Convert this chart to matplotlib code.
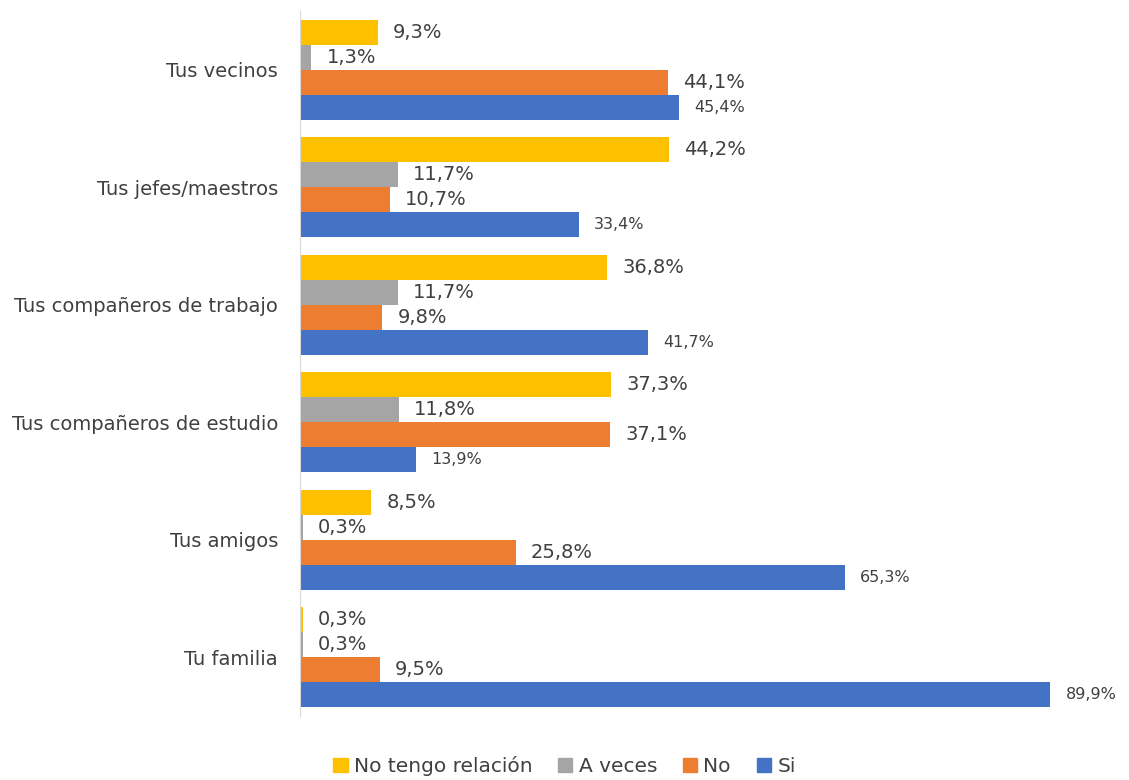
import matplotlib
matplotlib.use("Agg")
import matplotlib.pyplot as plt
import numpy as np
from matplotlib.patches import Patch

categories = ["Tus vecinos", "Tus jefes/maestros", "Tus compañeros de trabajo",
              "Tus compañeros de estudio", "Tus amigos", "Tu familia"]
series_names = ["No tengo relación", "A veces", "No", "Si"]
no_relacion = [9.3, 44.2, 36.8, 37.3, 8.5, 0.3]
a_veces = [1.3, 11.7, 11.7, 11.8, 0.3, 0.3]
no_vals = [44.1, 10.7, 9.8, 37.1, 25.8, 9.5]
si_vals = [45.4, 33.4, 41.7, 13.9, 65.3, 89.9]
colors = ["#FFC000", "#A5A5A5", "#ED7D31", "#4472C4"]

series = [no_relacion, a_veces, no_vals, si_vals]

fig = plt.figure(figsize=(11.29, 7.80), dpi=100)
ax = fig.add_axes([0.266, 0.082, 0.702, 0.904])

y = np.arange(len(categories))
h = 0.213
offsets = [-1.5 * h, -0.5 * h, 0.5 * h, 1.5 * h]
label_sizes = [14, 14, 14, 11.5]
for vals, c, off, fs in zip(series, colors, offsets, label_sizes):
    bars = ax.barh(y + off, vals, height=h, color=c)
    for b, v in zip(bars, vals):
        ax.annotate(f"{v:.1f}%".replace(".", ","),
                    xy=(b.get_width(), b.get_y() + b.get_height() / 2),
                    xytext=(11, 0), textcoords="offset points",
                    ha="left", va="center", fontsize=fs, color="#404040")

ax.set_yticks(y)
ax.set_yticklabels(categories, fontsize=14, color="#404040")
ax.set_ylim(len(categories) - 0.5, -0.5)
ax.set_xlim(0, 95)
ax.set_xticks([])
ax.tick_params(axis="y", length=0, pad=16)
for s in ["top", "right", "bottom"]:
    ax.spines[s].set_visible(False)
ax.spines["left"].set_color("#D9D9D9")

handles = [Patch(color=c, label=n) for c, n in zip(colors, series_names)]
fig.legend(handles=handles, loc="lower center", ncol=4, frameon=False,
           bbox_to_anchor=(0.5, -0.018), fontsize=14.5, handlelength=0.7,
           handleheight=0.7, handletextpad=0.3, columnspacing=1.3,
           labelcolor="#404040")

fig.savefig("out.png", dpi=100)
